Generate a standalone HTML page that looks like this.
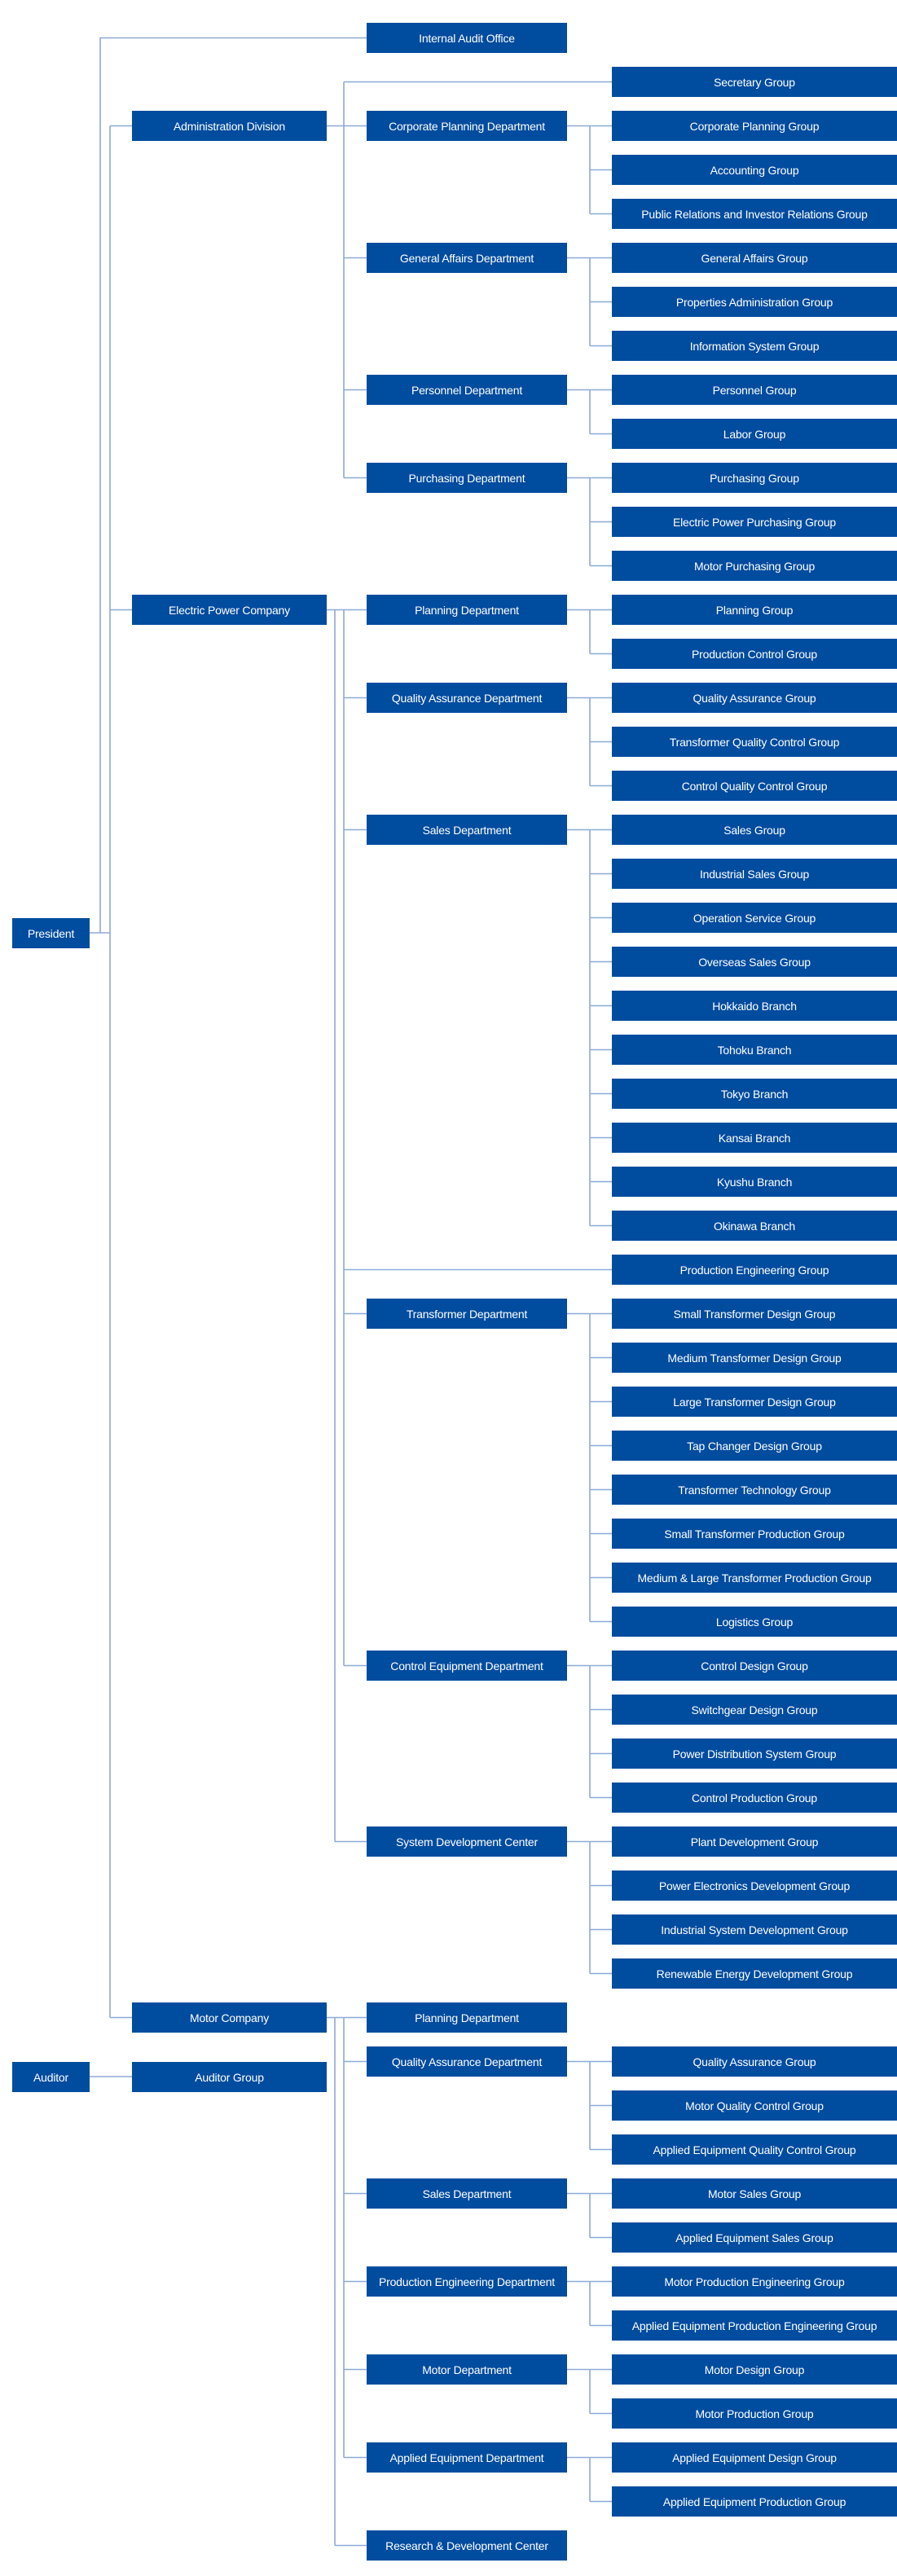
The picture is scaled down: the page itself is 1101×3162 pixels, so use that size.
<!DOCTYPE html>
<html><head><meta charset="utf-8"><style>
html,body{margin:0;padding:0;background:#fff}
body{width:1101px;height:3162px;position:relative;overflow:hidden;font-family:"Liberation Sans",sans-serif}
.b{position:absolute;height:37px;background:#004c9f;color:#fff;display:flex;align-items:center;justify-content:center;font-size:14px;white-space:nowrap;letter-spacing:-0.2px}
.c1{left:162px;width:239px}.c2{left:450px;width:246px}.c3{left:751px;width:350px}
svg{position:absolute;left:0;top:0}
</style></head><body>
<svg width="1101" height="3162"><g fill="none" stroke="#8eaad6" stroke-width="1.6">
<path d="M110 1145H123V46.5H450M123 1145H135M135 154.5V2476.5M135 154.5H162M135 748.5H162M135 2476.5H162M110 2549H162"/>
<path d="M401 154.5H450M422 100.5V586.5M422 100.5H751M422 316.5H450M422 478.5H450M422 586.5H450"/>
<path d="M696 154.5H751M724 154.5V262.5M724 208.5H751M724 262.5H751"/>
<path d="M696 316.5H751M724 316.5V424.5M724 370.5H751M724 424.5H751"/>
<path d="M696 478.5H751M724 478.5V532.5M724 532.5H751"/>
<path d="M696 586.5H751M724 586.5V694.5M724 640.5H751M724 694.5H751"/>
<path d="M401 748.5H450M422 748.5V2044.5M411 748.5V2260.5M422 856.5H450M422 1018.5H450M422 1558.5H751M422 1612.5H450M422 2044.5H450M411 2260.5H450"/>
<path d="M696 748.5H751M724 748.5V802.5M724 802.5H751"/>
<path d="M696 856.5H751M724 856.5V964.5M724 910.5H751M724 964.5H751"/>
<path d="M696 1018.5H751M724 1018.5V1504.5M724 1072.5H751M724 1126.5H751M724 1180.5H751M724 1234.5H751M724 1288.5H751M724 1342.5H751M724 1396.5H751M724 1450.5H751M724 1504.5H751"/>
<path d="M696 1612.5H751M724 1612.5V1990.5M724 1666.5H751M724 1720.5H751M724 1774.5H751M724 1828.5H751M724 1882.5H751M724 1936.5H751M724 1990.5H751"/>
<path d="M696 2044.5H751M724 2044.5V2206.5M724 2098.5H751M724 2152.5H751M724 2206.5H751"/>
<path d="M696 2260.5H751M724 2260.5V2422.5M724 2314.5H751M724 2368.5H751M724 2422.5H751"/>
<path d="M401 2476.5H450M422 2476.5V3016.5M411 2476.5V3124.5M422 2530.5H450M422 2692.5H450M422 2800.5H450M422 2908.5H450M422 3016.5H450M411 3124.5H450"/>
<path d="M696 2530.5H751M724 2530.5V2638.5M724 2584.5H751M724 2638.5H751"/>
<path d="M696 2692.5H751M724 2692.5V2746.5M724 2746.5H751"/>
<path d="M696 2800.5H751M724 2800.5V2854.5M724 2854.5H751"/>
<path d="M696 2908.5H751M724 2908.5V2962.5M724 2962.5H751"/>
<path d="M696 3016.5H751M724 3016.5V3070.5M724 3070.5H751"/>
</g></svg>
<div class="b" style="left:15px;width:95px;top:1127px">President</div>
<div class="b" style="left:15px;width:95px;top:2531px">Auditor</div>
<div class="b c1" style="top:2531px">Auditor Group</div>
<div class="b c2" style="top:28px">Internal Audit Office</div>
<div class="b c1" style="top:136px">Administration Division</div>
<div class="b c1" style="top:730px">Electric Power Company</div>
<div class="b c1" style="top:2458px">Motor Company</div>
<div class="b c2" style="top:136px">Corporate Planning Department</div>
<div class="b c2" style="top:298px">General Affairs Department</div>
<div class="b c2" style="top:460px">Personnel Department</div>
<div class="b c2" style="top:568px">Purchasing Department</div>
<div class="b c2" style="top:730px">Planning Department</div>
<div class="b c2" style="top:838px">Quality Assurance Department</div>
<div class="b c2" style="top:1000px">Sales Department</div>
<div class="b c2" style="top:1594px">Transformer Department</div>
<div class="b c2" style="top:2026px">Control Equipment Department</div>
<div class="b c2" style="top:2242px">System Development Center</div>
<div class="b c2" style="top:2458px">Planning Department</div>
<div class="b c2" style="top:2512px">Quality Assurance Department</div>
<div class="b c2" style="top:2674px">Sales Department</div>
<div class="b c2" style="top:2782px">Production Engineering Department</div>
<div class="b c2" style="top:2890px">Motor Department</div>
<div class="b c2" style="top:2998px">Applied Equipment Department</div>
<div class="b c2" style="top:3106px">Research &amp; Development Center</div>
<div class="b c3" style="top:82px">Secretary Group</div>
<div class="b c3" style="top:136px">Corporate Planning Group</div>
<div class="b c3" style="top:190px">Accounting Group</div>
<div class="b c3" style="top:244px">Public Relations and Investor Relations Group</div>
<div class="b c3" style="top:298px">General Affairs Group</div>
<div class="b c3" style="top:352px">Properties Administration Group</div>
<div class="b c3" style="top:406px">Information System Group</div>
<div class="b c3" style="top:460px">Personnel Group</div>
<div class="b c3" style="top:514px">Labor Group</div>
<div class="b c3" style="top:568px">Purchasing Group</div>
<div class="b c3" style="top:622px">Electric Power Purchasing Group</div>
<div class="b c3" style="top:676px">Motor Purchasing Group</div>
<div class="b c3" style="top:730px">Planning Group</div>
<div class="b c3" style="top:784px">Production Control Group</div>
<div class="b c3" style="top:838px">Quality Assurance Group</div>
<div class="b c3" style="top:892px">Transformer Quality Control Group</div>
<div class="b c3" style="top:946px">Control Quality Control Group</div>
<div class="b c3" style="top:1000px">Sales Group</div>
<div class="b c3" style="top:1054px">Industrial Sales Group</div>
<div class="b c3" style="top:1108px">Operation Service Group</div>
<div class="b c3" style="top:1162px">Overseas Sales Group</div>
<div class="b c3" style="top:1216px">Hokkaido Branch</div>
<div class="b c3" style="top:1270px">Tohoku Branch</div>
<div class="b c3" style="top:1324px">Tokyo Branch</div>
<div class="b c3" style="top:1378px">Kansai Branch</div>
<div class="b c3" style="top:1432px">Kyushu Branch</div>
<div class="b c3" style="top:1486px">Okinawa Branch</div>
<div class="b c3" style="top:1540px">Production Engineering Group</div>
<div class="b c3" style="top:1594px">Small Transformer Design Group</div>
<div class="b c3" style="top:1648px">Medium Transformer Design Group</div>
<div class="b c3" style="top:1702px">Large Transformer Design Group</div>
<div class="b c3" style="top:1756px">Tap Changer Design Group</div>
<div class="b c3" style="top:1810px">Transformer Technology Group</div>
<div class="b c3" style="top:1864px">Small Transformer Production Group</div>
<div class="b c3" style="top:1918px">Medium &amp; Large Transformer Production Group</div>
<div class="b c3" style="top:1972px">Logistics Group</div>
<div class="b c3" style="top:2026px">Control Design Group</div>
<div class="b c3" style="top:2080px">Switchgear Design Group</div>
<div class="b c3" style="top:2134px">Power Distribution System Group</div>
<div class="b c3" style="top:2188px">Control Production Group</div>
<div class="b c3" style="top:2242px">Plant Development Group</div>
<div class="b c3" style="top:2296px">Power Electronics Development Group</div>
<div class="b c3" style="top:2350px">Industrial System Development Group</div>
<div class="b c3" style="top:2404px">Renewable Energy Development Group</div>
<div class="b c3" style="top:2512px">Quality Assurance Group</div>
<div class="b c3" style="top:2566px">Motor Quality Control Group</div>
<div class="b c3" style="top:2620px">Applied Equipment Quality Control Group</div>
<div class="b c3" style="top:2674px">Motor Sales Group</div>
<div class="b c3" style="top:2728px">Applied Equipment Sales Group</div>
<div class="b c3" style="top:2782px">Motor Production Engineering Group</div>
<div class="b c3" style="top:2836px">Applied Equipment Production Engineering Group</div>
<div class="b c3" style="top:2890px">Motor Design Group</div>
<div class="b c3" style="top:2944px">Motor Production Group</div>
<div class="b c3" style="top:2998px">Applied Equipment Design Group</div>
<div class="b c3" style="top:3052px">Applied Equipment Production Group</div>
</body></html>
